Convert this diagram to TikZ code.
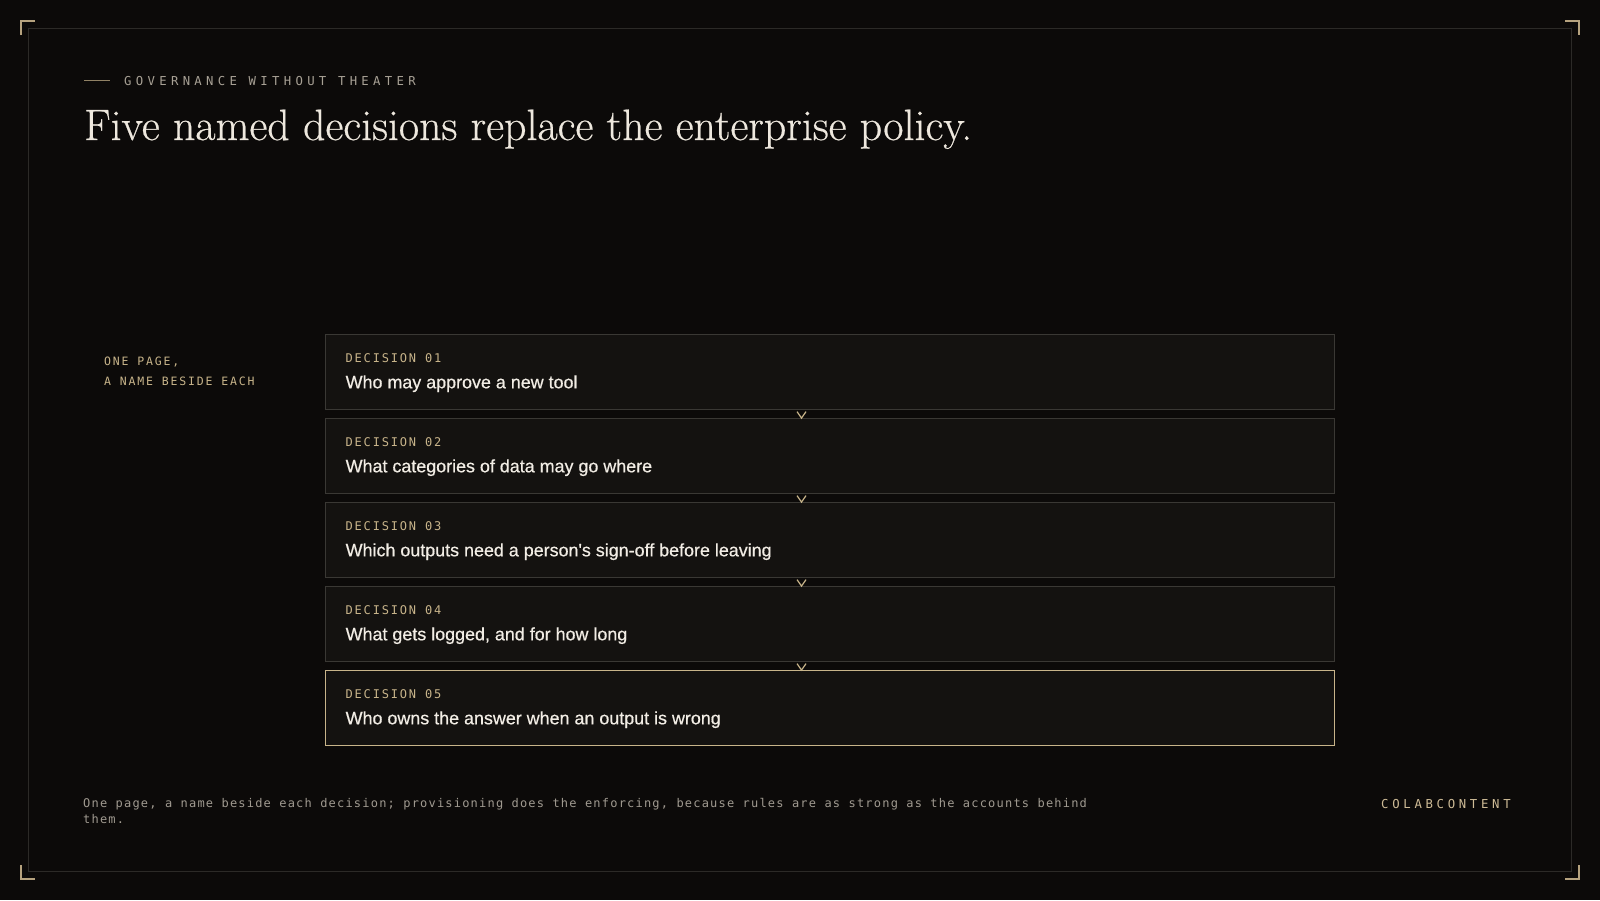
\documentclass[tikz,border=0pt]{standalone}
\usepackage{fontspec}
\usetikzlibrary{calc}
\newfontfamily\eyefont{DejaVu Sans Mono}[LetterSpace=35]
\newfontfamily\brandfont{DejaVu Sans Mono}[LetterSpace=30]
\newfontfamily\labfont{DejaVu Sans Mono}[LetterSpace=15]
\newfontfamily\sidefont{DejaVu Sans Mono}[LetterSpace=16]
\newfontfamily\footfont{DejaVu Sans Mono}[LetterSpace=10]
\newfontfamily\decfont{Liberation Sans}[FakeBold=0.6]
\newfontfamily\titlefont{Latin Modern Roman}[FakeBold=0.5]
\definecolor{bgc}{HTML}{0C0A09}
\definecolor{boxfill}{HTML}{141210}
\definecolor{boxline}{HTML}{3A3834}
\definecolor{framec}{HTML}{2C2A27}
\definecolor{gold}{HTML}{C8B48A}
\definecolor{golddim}{HTML}{B5A27E}
\definecolor{eyec}{HTML}{A8A195}
\definecolor{titlec}{HTML}{EEE8DE}
\definecolor{textc}{HTML}{F2EDE5}
\definecolor{footc}{HTML}{A09A90}
\tikzset{
  decbox/.style={draw=boxline, fill=boxfill, line width=1pt, minimum width=1009pt, minimum height=75pt, inner sep=0pt, anchor=north west},
  lastbox/.style={decbox, draw=gold},
  declabel/.style={anchor=base west, inner sep=0pt, text=gold, font=\labfont\fontsize{12}{14}\selectfont},
  dectext/.style={anchor=base west, inner sep=0pt, text=textc, font=\decfont\fontsize{17.9}{20}\selectfont},
  chev/.style={draw=gold, line width=1.2pt, line join=miter},
  cornermark/.style={draw=golddim, line width=1.2pt},
  txt/.style={anchor=base west, inner sep=0pt}
}
\begin{document}
\begin{tikzpicture}[x=1pt,y=-1pt]
\fill[bgc] (0,0) rectangle (1600,900);
\useasboundingbox (0,0) rectangle (1600,900);
% frame
\draw[framec, line width=1pt] (28.5,28.5) rectangle (1571.5,871.5);
\draw[cornermark] (21,35) -- (21,21) -- (35,21);
\draw[cornermark] (1565,21) -- (1579,21) -- (1579,35);
\draw[cornermark] (21,865) -- (21,879) -- (35,879);
\draw[cornermark] (1565,879) -- (1579,879) -- (1579,865);
% eyebrow
\coordinate (eyeA) at (84,80.5);
\coordinate (eyeB) at (110,80.5);
\draw[golddim!80!black, line width=1pt] (eyeA) -- (eyeB);
\node[txt, text=eyec, font=\eyefont\fontsize{12.3}{14}\selectfont] (eyebrow) at (124,85) {GOVERNANCE WITHOUT THEATER};
% title
\node[txt, text=titlec] (title) at (84,140) {\resizebox{888pt}{!}{\titlefont\fontsize{44}{50}\selectfont Five named decisions replace the enterprise policy.}};
% side label
\node[txt, text=gold, font=\sidefont\fontsize{11.5}{14}\selectfont] (side1) at (104,365) {ONE PAGE,};
\node[txt, text=gold, font=\sidefont\fontsize{11.5}{14}\selectfont] (side2) at (104,385) {A NAME BESIDE EACH};
% boxes
\node[decbox] (b1) at (324.5,334.3) {};
\node[decbox] (b2) at (324.5,418.3) {};
\node[decbox] (b3) at (324.5,502.3) {};
\node[decbox] (b4) at (324.5,586.3) {};
\node[lastbox] (b5) at (324.5,670.3) {};
\foreach \i/\t in {1/Who may approve a new tool, 2/What categories of data may go where, 3/Which outputs need a person's sign-off before leaving, 4/{What gets logged, and for how long}, 5/Who owns the answer when an output is wrong}{
  \node[declabel] (l\i) at ($(b\i.north west)+(21,28)$) {DECISION 0\i};
  \node[dectext] (t\i) at ($(b\i.north west)+(21,54)$) {\t};
}
% chevrons
\foreach \i in {1,2,3,4}{
  \draw[chev] ([xshift=472.5pt,yshift=-1.3pt]b\i.south west) -- ++(4.5,6.5) -- ++(4.5,-6.5);
}
% footer
\node[txt, text=footc, font=\footfont\fontsize{12}{14}\selectfont] (foot1) at (83,807) {One page, a name beside each decision; provisioning does the enforcing, because rules are as strong as the accounts behind};
\node[txt, text=footc, font=\footfont\fontsize{12}{14}\selectfont] (foot2) at (83,823) {them.};
\node[txt, text=gold!90!white, font=\brandfont\fontsize{12.3}{14}\selectfont] (brand) at (1381,808.5) {COLABCONTENT};
\end{tikzpicture}
\end{document}
